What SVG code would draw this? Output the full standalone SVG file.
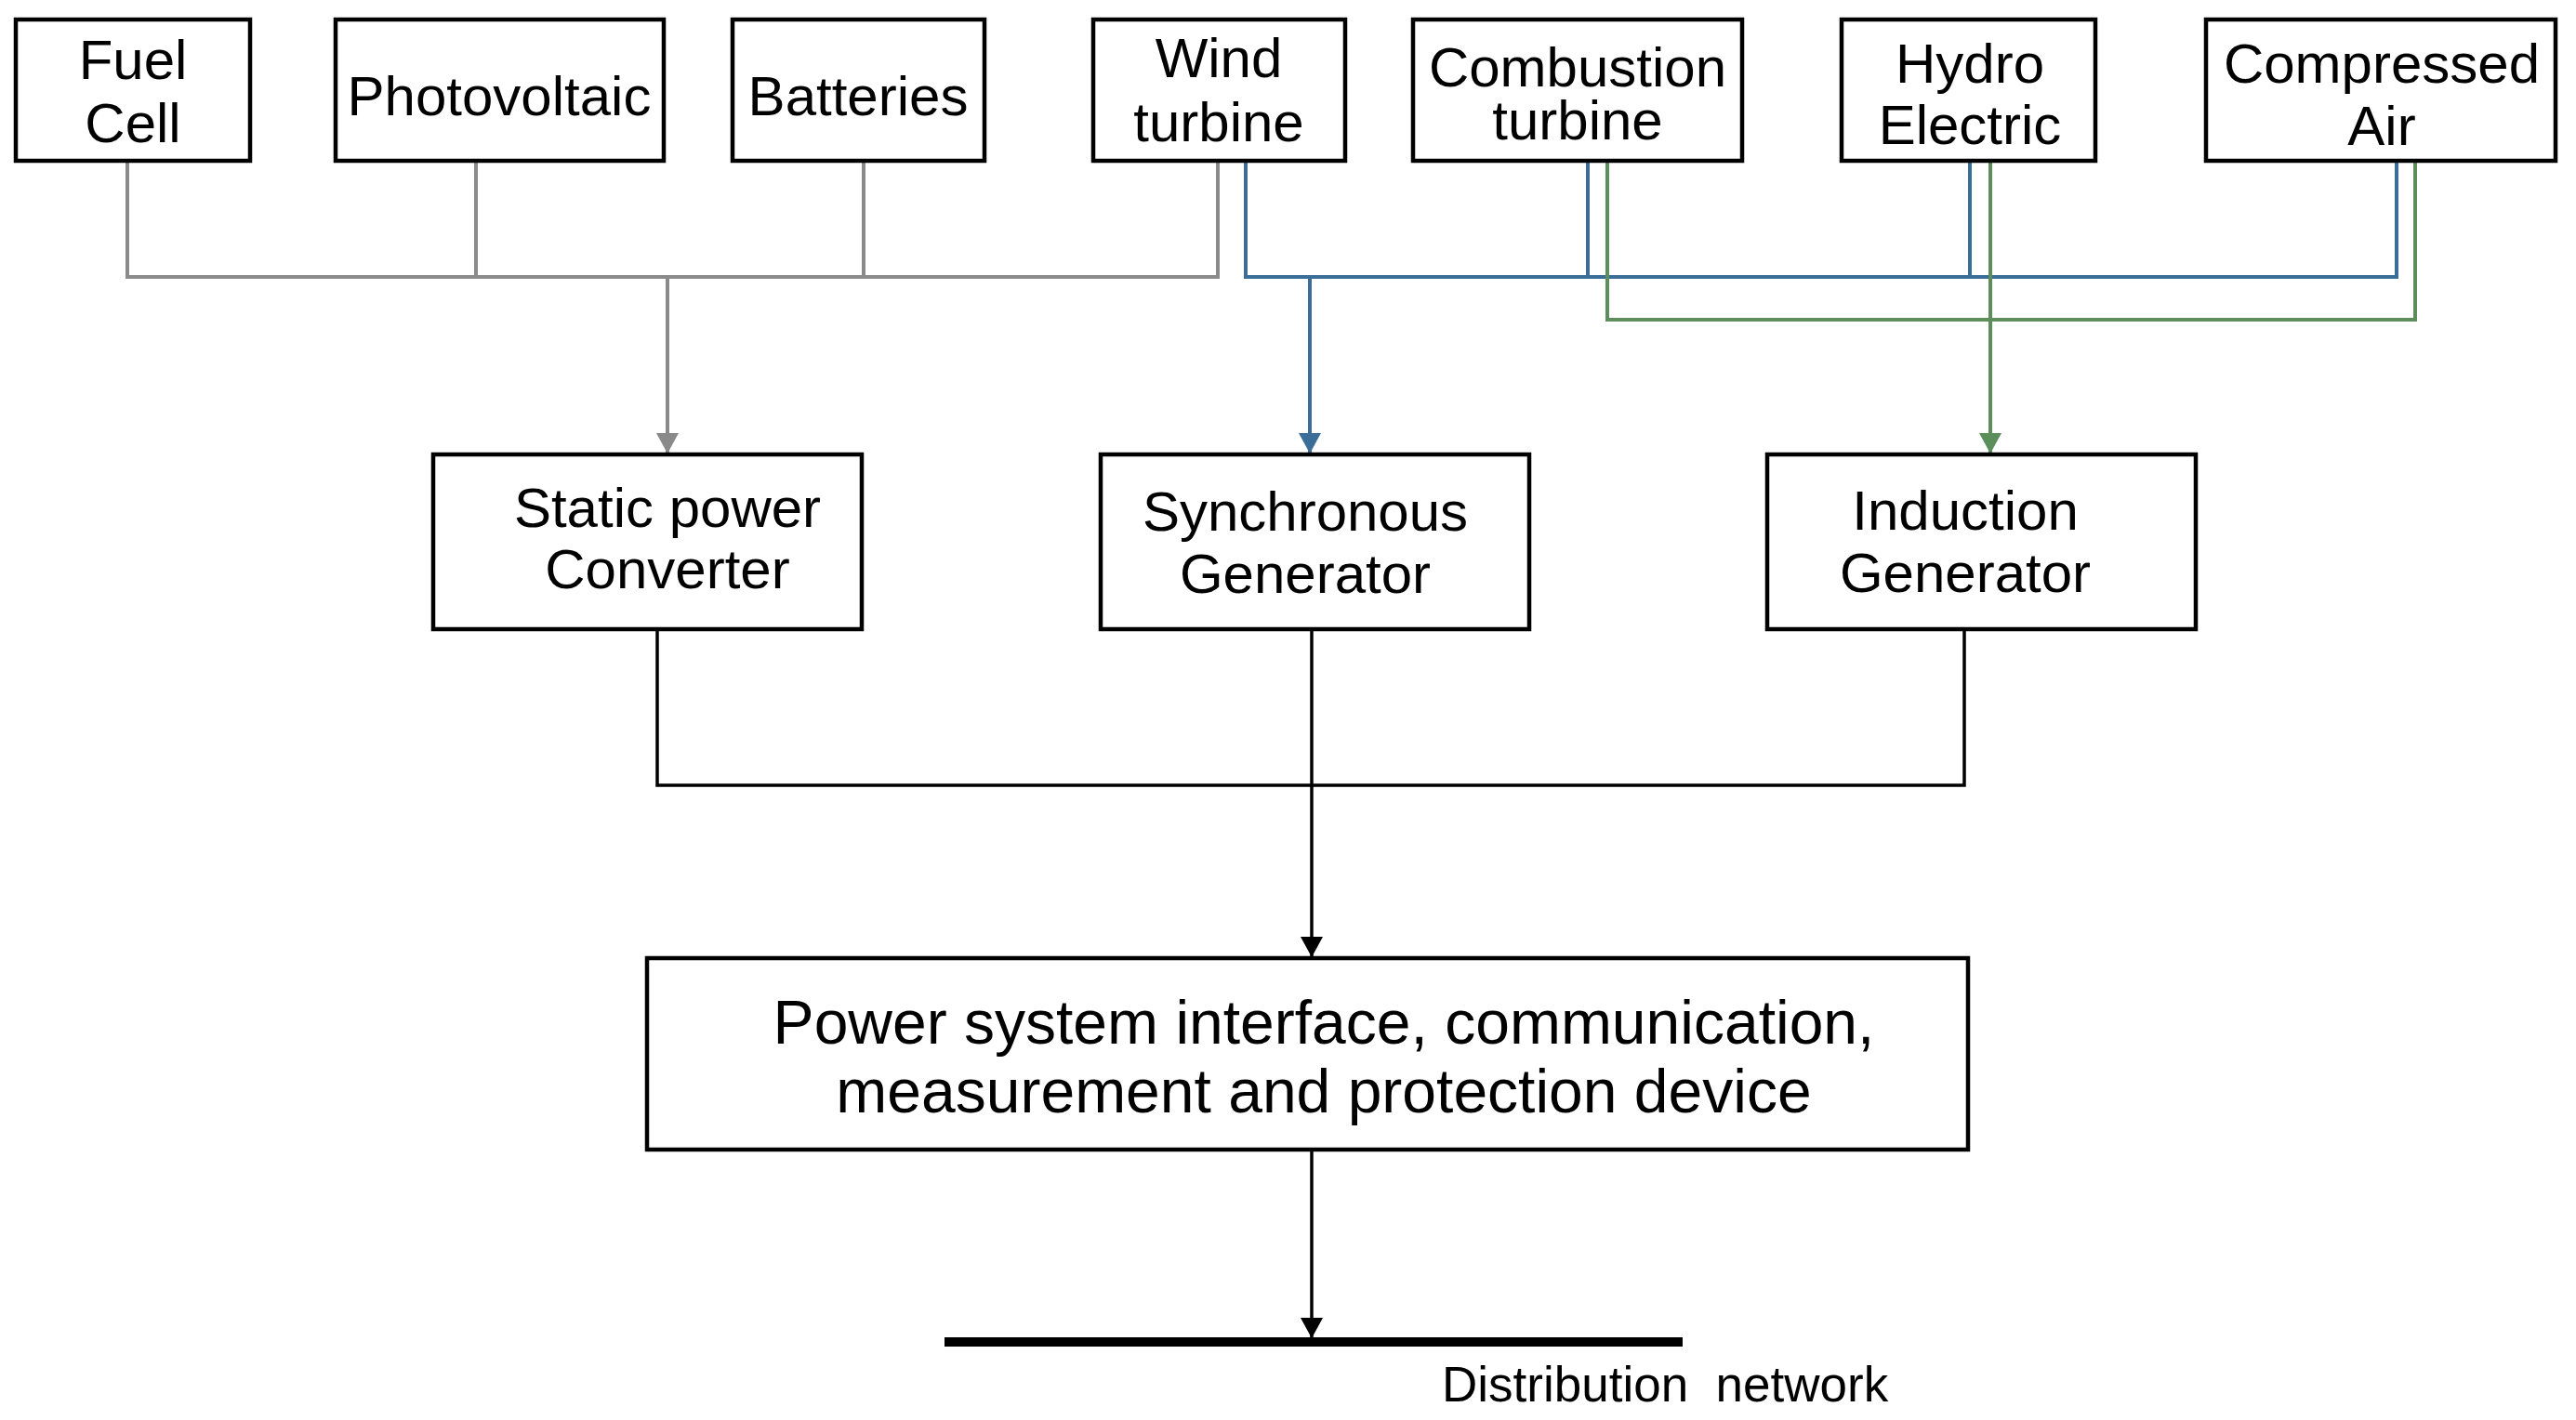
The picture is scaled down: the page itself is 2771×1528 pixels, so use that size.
<svg xmlns="http://www.w3.org/2000/svg" width="2771" height="1528" viewBox="0 0 2771 1528">
<style>
.box{fill:#fff;stroke:#000;stroke-width:4.5}
.t{font-family:"Liberation Sans",Arial,sans-serif;font-size:60px;fill:#000;text-anchor:middle}
.big{font-size:66px}
.gray{fill:none;stroke:#8a8a8a;stroke-width:4}
.blue{fill:none;stroke:#3a6e99;stroke-width:4}
.green{fill:none;stroke:#5b8e5b;stroke-width:4}
.black{fill:none;stroke:#000;stroke-width:3.5}
</style>
<defs>
<marker id="ag" markerUnits="userSpaceOnUse" markerWidth="24" markerHeight="24" viewBox="0 0 22 24" refX="22" refY="12" orient="auto"><path d="M0,0 L22,12 L0,24 z" fill="#8a8a8a"/></marker>
<marker id="ab" markerUnits="userSpaceOnUse" markerWidth="24" markerHeight="24" viewBox="0 0 22 24" refX="22" refY="12" orient="auto"><path d="M0,0 L22,12 L0,24 z" fill="#3a6e99"/></marker>
<marker id="agr" markerUnits="userSpaceOnUse" markerWidth="24" markerHeight="24" viewBox="0 0 22 24" refX="22" refY="12" orient="auto"><path d="M0,0 L22,12 L0,24 z" fill="#5b8e5b"/></marker>
<marker id="ak" markerUnits="userSpaceOnUse" markerWidth="24" markerHeight="24" viewBox="0 0 22 24" refX="22" refY="12" orient="auto"><path d="M0,0 L22,12 L0,24 z" fill="#000"/></marker>
</defs>
<rect width="2771" height="1528" fill="#fff"/>
<g id="connectors">
<path class="gray" d="M137,175 V298 H1310 V175 M512,175 V298 M929,175 V298"/>
<path class="gray" d="M718,298 V488" marker-end="url(#ag)"/>
<path class="blue" d="M1340,175 V298 H2578 V175 M1708,175 V298 M2119,175 V298"/>
<path class="blue" d="M1409,298 V488" marker-end="url(#ab)"/>
<path class="green" d="M1729,175 V344 H2598 V175"/>
<path class="green" d="M2141,175 V488" marker-end="url(#agr)"/>
<path class="black" d="M707,679 V845 H2113 V679"/>
<path class="black" d="M1411,679 V1030" marker-end="url(#ak)"/>
<path class="black" d="M1411,1239 V1440" marker-end="url(#ak)"/>
</g>
<g id="fuel-cell"><rect class="box" x="17" y="21" width="252" height="152"/><text class="t" x="143" y="85">Fuel</text><text class="t" x="143" y="153">Cell</text></g>
<g id="photovoltaic"><rect class="box" x="361" y="21" width="353" height="152"/><text class="t" x="537" y="124">Photovoltaic</text></g>
<g id="batteries"><rect class="box" x="788" y="21" width="271" height="152"/><text class="t" x="923" y="124">Batteries</text></g>
<g id="wind-turbine"><rect class="box" x="1176" y="21" width="271" height="152"/><text class="t" x="1311" y="83">Wind</text><text class="t" x="1311" y="152">turbine</text></g>
<g id="combustion-turbine"><rect class="box" x="1520" y="21" width="354" height="152"/><text class="t" x="1697" y="93">Combustion</text><text class="t" x="1697" y="150">turbine</text></g>
<g id="hydro-electric"><rect class="box" x="1981" y="21" width="273" height="152"/><text class="t" x="2119" y="89">Hydro</text><text class="t" x="2119" y="155">Electric</text></g>
<g id="compressed-air"><rect class="box" x="2373" y="21" width="376" height="152"/><text class="t" x="2562" y="89">Compressed</text><text class="t" x="2562" y="156">Air</text></g>
<g id="static-power-converter"><rect class="box" x="466" y="489" width="461" height="188"/><text class="t" x="718" y="567">Static power</text><text class="t" x="718" y="633">Converter</text></g>
<g id="synchronous-generator"><rect class="box" x="1184" y="489" width="461" height="188"/><text class="t" x="1404" y="571">Synchronous</text><text class="t" x="1404" y="638">Generator</text></g>
<g id="induction-generator"><rect class="box" x="1901" y="489" width="461" height="188"/><text class="t" x="2114" y="570">Induction</text><text class="t" x="2114" y="637">Generator</text></g>
<g id="interface-device"><rect class="box" x="696" y="1031" width="1421" height="206"/><text class="t big" x="1424" y="1123">Power system interface, communication,</text><text class="t big" x="1424" y="1197">measurement and protection device</text></g>
<g id="distribution-network"><rect x="1016" y="1439" width="794" height="10" fill="#000"/><text x="1551" y="1508" font-family="'Liberation Sans',Arial,sans-serif" font-size="53" fill="#000" xml:space="preserve">Distribution  network</text></g>
</svg>
